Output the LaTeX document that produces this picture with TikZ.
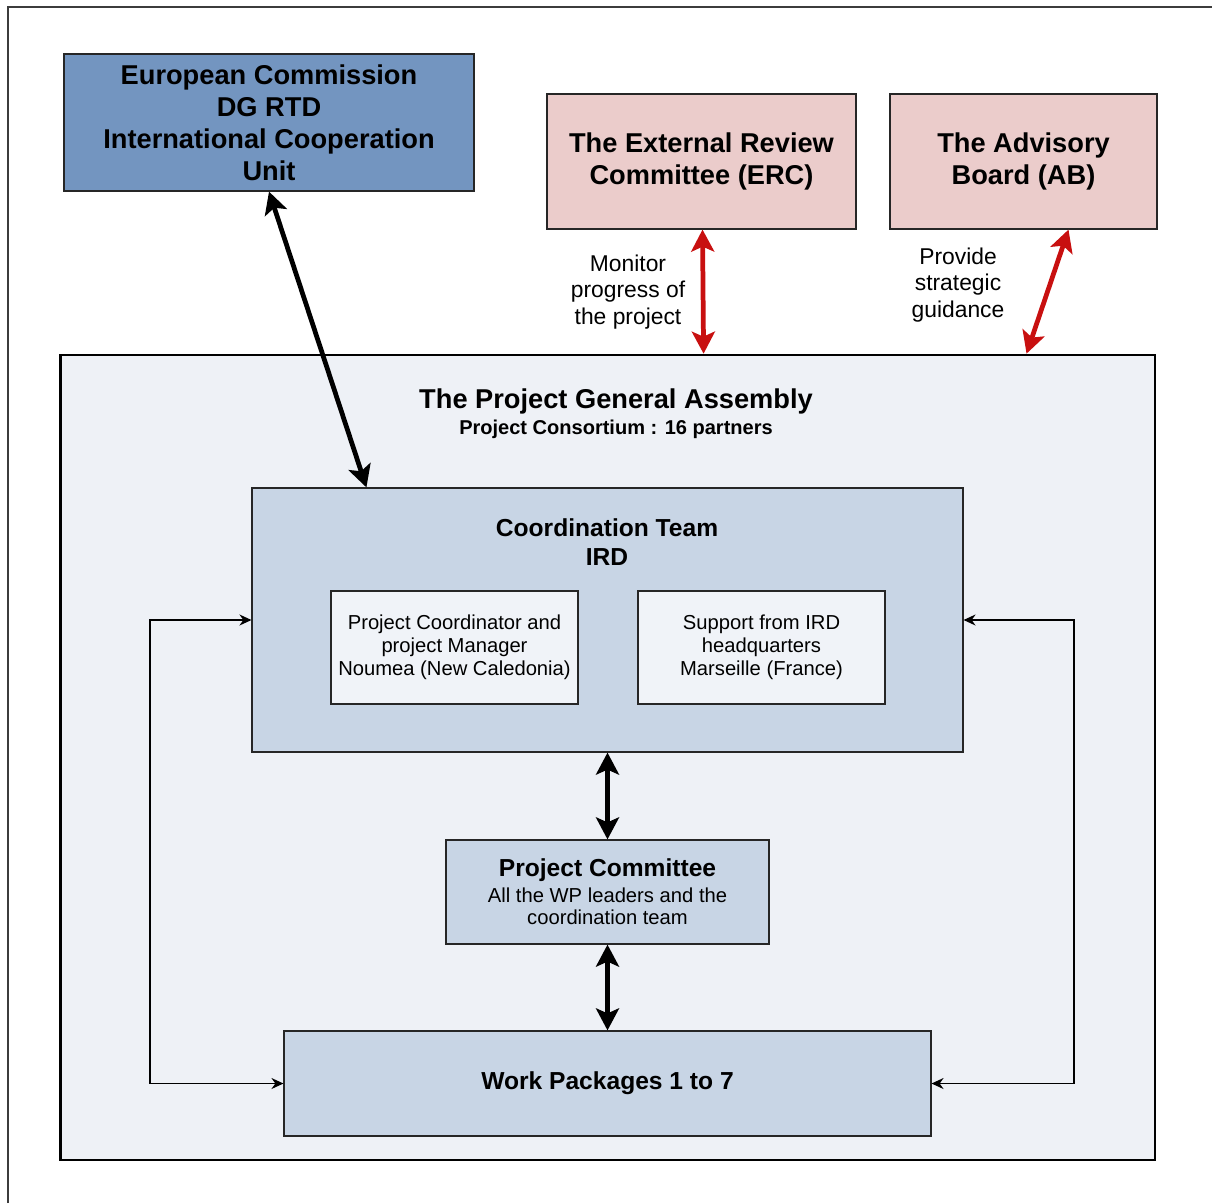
\documentclass[tikz,border=0pt]{standalone}
\usepackage{fontspec}
\setmainfont{Liberation Sans}
\usetikzlibrary{arrows.meta}

\definecolor{ecblue}{RGB}{115,149,192}
\definecolor{reviewpink}{RGB}{235,204,203}
\definecolor{assemblybg}{RGB}{238,241,246}
\definecolor{teamblue}{RGB}{200,213,229}
\definecolor{innerbg}{RGB}{240,243,248}
\definecolor{linkred}{RGB}{200,16,16}
\definecolor{framegray}{RGB}{60,60,60}

\tikzset{
	box/.style={draw=black!85, line width=0.7pt, align=center, inner sep=2pt},
	bigfont/.style={font=\fontsize{15.5}{18.3}\selectfont\bfseries},
	midfont/.style={font=\fontsize{14}{16.5}\selectfont\bfseries},
	smallfont/.style={font=\fontsize{11.5}{13}\selectfont},
	labelfont/.style={font=\fontsize{13}{15.3}\selectfont},
	bigtip/.style={Stealth[length=0.44cm,width=0.46cm,inset=0.1cm]},
	thicklink/.style={line width=2.7pt, {Stealth[length=0.44cm,width=0.46cm,inset=0.1cm]}-{Stealth[length=0.44cm,width=0.46cm,inset=0.1cm]}},
	redlink/.style={thicklink, draw=linkred},
	looplink/.style={line width=0.8pt, {Stealth[length=0.24cm,width=0.22cm]}-{Stealth[length=0.24cm,width=0.22cm]}}
}

\begin{document}
\begin{tikzpicture}[x=0.02cm, y=-0.02cm]
	\useasboundingbox (0,0) rectangle (1212,1203);
	\draw[framegray, line width=0.9pt] (8,1203) -- (8,7) -- (1212,7);

	% boxes outside the assembly
	\node[box, bigfont, fill=ecblue, minimum width=8.2cm, minimum height=2.74cm] (ec) at (269,122.5)
		{European Commission\\DG RTD\\International Cooperation\\Unit};
	\node[box, bigfont, fill=reviewpink, minimum width=6.18cm, minimum height=2.7cm] (erc) at (701.5,161.5)
		{The External Review\\Committee (ERC)};
	\node[box, bigfont, fill=reviewpink, minimum width=5.34cm, minimum height=2.7cm] (ab) at (1023.5,161.5)
		{The Advisory\\Board (AB)};

	% the assembly and what it holds
	\node[draw=black, line width=1.6pt, fill=assemblybg, minimum width=21.9cm, minimum height=16.1cm] (asm) at (607.5,757.5) {};
	\node[bigfont] (asmtitle) at (616,401) {The Project General Assembly};
	\node[font=\fontsize{11.4}{13}\selectfont\bfseries] (asmsub) at (616,429) {Project Consortium : 16 partners};

	\node[box, fill=teamblue, minimum width=14.22cm, minimum height=5.28cm] (ct) at (607.5,620) {};
	\node[midfont, align=center] (cttitle) at (607,542) {Coordination Team\\IRD};
	\node[box, smallfont, fill=innerbg, minimum width=4.94cm, minimum height=2.26cm] (coord) at (454.5,647.5)
		{Project Coordinator and\\project Manager\\Noumea (New Caledonia)};
	\node[box, smallfont, fill=innerbg, minimum width=4.94cm, minimum height=2.26cm] (hq) at (761.5,647.5)
		{Support from IRD\\headquarters\\Marseille (France)};

	\node[box, smallfont, fill=teamblue, minimum width=6.46cm, minimum height=2.08cm] (pcom) at (607.5,892)
		{{\fontsize{14}{16.5}\selectfont\bfseries Project Committee}\\[1.5pt]
		 All the WP leaders and the\\coordination team};
	\node[box, midfont, fill=teamblue, minimum width=12.94cm, minimum height=2.1cm] (wp) at (607.5,1083.5)
		{Work Packages 1 to 7};

	% labels of the red links
	\node[labelfont, align=center] (monitor) at (628,292) {Monitor\\progress of\\the project};
	\node[labelfont, align=center] (guide) at (958,285) {Provide\\strategic\\guidance};

	\coordinate (loopL) at (150,620);
	\coordinate (loopR) at (1074,620);

	\begin{scope}[thicklink]
		\draw (ec.south) -- ([xshift=2.3cm]ct.north west);
		\draw (ct.south) -- (pcom.north);
		\draw (pcom.south) -- (wp.north);
	\end{scope}

	\begin{scope}[redlink]
		\draw ([xshift=0.02cm]erc.south) -- ([xshift=12.9cm]asm.north west);
		\draw ([xshift=0.9cm]ab.south) -- ([xshift=19.36cm]asm.north west);
	\end{scope}

	\begin{scope}[looplink]
		\draw (wp.west) -- (wp.west -| loopL) -- (loopL) -- (ct.west);
		\draw (ct.east) -- (loopR) -- (wp.east -| loopR) -- (wp.east);
	\end{scope}
\end{tikzpicture}
\end{document}
